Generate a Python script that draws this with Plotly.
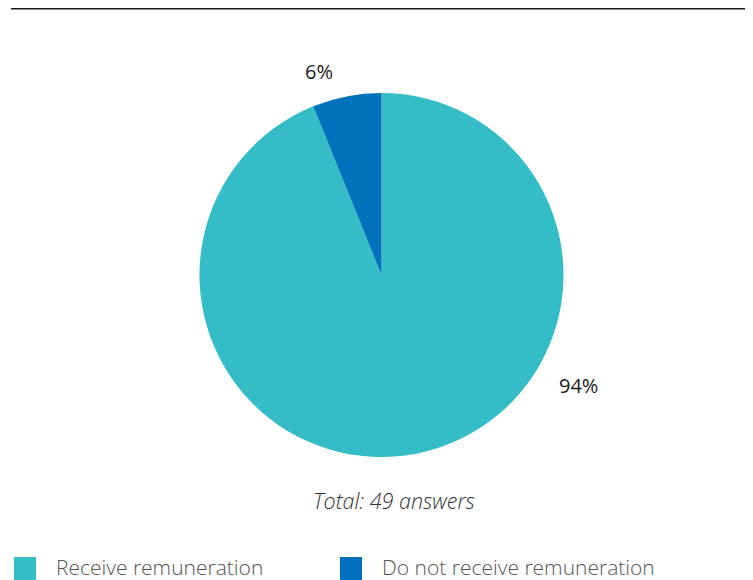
import plotly.graph_objects as go

# ── Data ─────────────────────────────────────────────────────────────────────
labels = ["Receive remuneration", "Do not receive remuneration"]
answers = [46, 3]
colors = ["#34bdc7", "#0072bb"]
total = sum(answers)
pct_text = [f"{round(100 * v / total)}%" for v in answers]

# page body adds an 8px margin, so the figure is sized to the visible area
OFF = 8
W, H = 753 - OFF, 580 - OFF


def px(x):
    return (x - OFF) / W


def py(y):
    return 1 - (y - OFF) / H


fig = go.Figure()

fig.add_trace(go.Pie(
    labels=labels,
    values=answers,
    sort=False,
    direction="clockwise",
    rotation=0,
    marker=dict(colors=colors, line=dict(width=0)),
    textinfo="none",
    hoverinfo="label+percent",
    showlegend=False,
    domain=dict(x=[px(199.5), px(563.5)], y=[py(457), py(93)]),
))

font_light = "Open Sans"

# ── Percent labels ───────────────────────────────────────────────────────────
label_pos = [(578, 385), (319, 72)]
for txt, (lx, ly) in zip(pct_text, label_pos):
    fig.add_annotation(
        text=txt, x=px(lx), y=py(ly), xref="paper", yref="paper",
        showarrow=False, font=dict(family=font_light, size=20, color="#1a1a1a"),
        xanchor="center", yanchor="middle",
    )

# ── Total note ───────────────────────────────────────────────────────────────
fig.add_annotation(
    text=f"<i>Total: {total} answers</i>", x=px(394), y=py(500),
    xref="paper", yref="paper", showarrow=False,
    font=dict(family=font_light, size=21.5, color="#333333", weight=300),
    xanchor="center", yanchor="middle",
)

# ── Top rule ─────────────────────────────────────────────────────────────────
fig.add_shape(type="line", xref="paper", yref="paper",
              x0=px(11), x1=1, y0=py(8.5), y1=py(8.5),
              line=dict(color="#1a1a1a", width=2))

# ── Legend (drawn manually for large swatches) ───────────────────────────────
legend_x = [14, 340]
for lab, col, lx in zip(labels, colors, legend_x):
    fig.add_shape(type="rect", xref="paper", yref="paper",
                  x0=px(lx), x1=px(lx + 22), y0=0, y1=py(557),
                  fillcolor=col, line=dict(width=0))
    fig.add_annotation(
        text=lab, x=px(lx + 40), y=py(566.5), xref="paper", yref="paper",
        showarrow=False, xanchor="left", yanchor="middle",
        font=dict(family=font_light, size=21, color="#555555", weight=300),
    )

fig.update_layout(
    width=W, height=H,
    margin=dict(l=0, r=0, t=0, b=0),
    paper_bgcolor="white",
    plot_bgcolor="white",
    font=dict(family=font_light),
)

fig.write_html("out.html")
